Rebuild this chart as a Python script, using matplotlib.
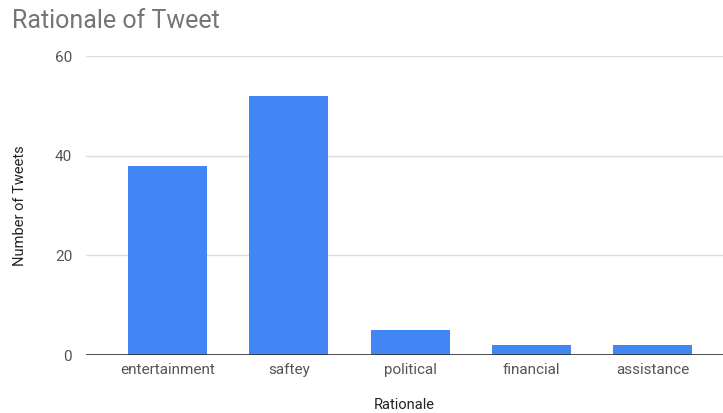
import matplotlib
matplotlib.use("Agg")
import matplotlib.pyplot as plt

categories = ["entertainment", "saftey", "political", "financial", "assistance"]
tweets = [38, 52, 5, 2, 2]

plt.rcParams['font.family'] = ['Roboto', 'DejaVu Sans']

fig = plt.figure(figsize=(7.23, 4.13), dpi=100)
ax = fig.add_axes([0.119, 0.1404, 0.881, 0.7236])

x = range(len(categories))
ax.bar(x, tweets, width=0.65, color="#4285F4", zorder=3)

ax.set_xlim(-0.672, 4.58)
ax.set_ylim(0, 60)
ax.set_yticks([0, 20, 40, 60])
ax.set_xticks(list(x))
ax.set_xticklabels(categories)

ax.grid(axis="y", color="#dddddd", linewidth=1, zorder=0)
ax.axhline(0, color="#333333", linewidth=1.2, zorder=4)
for s in ax.spines.values():
    s.set_visible(False)
ax.tick_params(axis="both", length=0, labelsize=11, labelcolor="#555555")
ax.tick_params(axis="y", pad=10)
ax.tick_params(axis="x", pad=6)

ax.set_ylabel("Number of Tweets", fontsize=10.5, color="#222222", labelpad=20)
ax.set_xlabel("Rationale", fontsize=10.5, color="#222222", labelpad=15)

fig.text(0.017, 0.95, "Rationale of Tweet", fontsize=18, color="#757575", va="center", ha="left")

fig.savefig("out.png", dpi=100)
